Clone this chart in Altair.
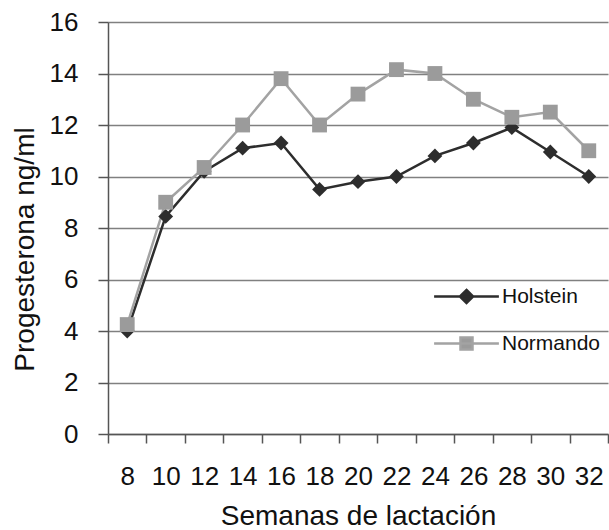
import altair as alt
import pandas as pd

semanas = [8, 10, 12, 14, 16, 18, 20, 22, 24, 26, 28, 30, 32]
holstein = [4.0, 8.45, 10.2, 11.1, 11.3, 9.5, 9.8, 10.0, 10.8, 11.3, 11.9, 10.95, 10.0]
normando = [4.25, 9.0, 10.35, 12.0, 13.8, 12.0, 13.2, 14.15, 14.0, 13.0, 12.3, 12.5, 11.0]
series = ["Holstein", "Normando"]
y_ticks = [0, 2, 4, 6, 8, 10, 12, 14, 16]

rows = []
for s, vals in zip(series, [holstein, normando]):
    for w, v in zip(semanas, vals):
        rows.append({"semana": w, "valor": v, "serie": s})
df = pd.DataFrame(rows)

FONT = "Liberation Sans"
line_colors = ["#2d2d2d", "#a3a3a3"]
fill_colors = ["#2d2d2d", "#9b9b9b"]

x_enc = alt.X(
    "semana:O",
    sort=semanas,
    bandPosition=0.5,
    scale=alt.Scale(type="band", paddingInner=0, paddingOuter=0),
    axis=alt.Axis(
        title="Semanas de lactación",
        labelAngle=0,
        tickBand="extent",
        grid=False,
        domainColor="#555555",
        domainWidth=1.5,
        tickColor="#555555",
        tickWidth=1.5,
        tickSize=9,
        labelFontSize=26,
        labelFont=FONT,
        labelColor="#111111",
        labelBaseline="alphabetic",
        labelPadding=41,
        titleFont=FONT,
        titleFontSize=28,
        titleFontWeight="normal",
        titleColor="#111111",
        titleBaseline="alphabetic",
        titleY=90,
    ),
)

y_enc = alt.Y(
    "valor:Q",
    scale=alt.Scale(domain=[0, 16], nice=False),
    axis=alt.Axis(
        title="Progesterona ng/ml",
        values=y_ticks,
        grid=True,
        gridColor="#808080",
        gridWidth=1.5,
        domainColor="#555555",
        domainWidth=1.5,
        tickColor="#555555",
        tickWidth=1.5,
        tickSize=10,
        labelFontSize=26,
        labelFont=FONT,
        labelColor="#111111",
        labelPadding=20,
        titleFont=FONT,
        titleFontSize=28,
        titleFontWeight="normal",
        titleColor="#111111",
        titleAngle=270,
        titleAlign="center",
        titleBaseline="middle",
        titleX=-83,
        titleY=227,
    ),
)

lines = alt.Chart(df).mark_line(strokeWidth=2.5).encode(
    x=x_enc,
    y=y_enc,
    stroke=alt.Stroke("serie:N", scale=alt.Scale(domain=series, range=line_colors), legend=None),
)

points = alt.Chart(df).mark_point(filled=True, opacity=1, size=220).encode(
    x=x_enc,
    y=y_enc,
    fill=alt.Fill("serie:N", scale=alt.Scale(domain=series, range=fill_colors), legend=None),
    shape=alt.Shape("serie:N", scale=alt.Scale(domain=series, range=["diamond", "square"]), legend=None),
)

legend_paths = [
    "M-5.4,0H5.4M0,-1.1L1.1,0L0,1.1L-1.1,0Z",
    "M-5.4,0H5.4M-1,-1H1V1H-1Z",
]
leg = alt.Legend(
    title=None,
    orient="none",
    legendX=348,
    legendY=264,
    padding=0,
    symbolSize=144,
    symbolStrokeWidth=2.5,
    labelOffset=25,
    labelFont=FONT,
    labelFontSize=21,
    labelColor="#111111",
    rowPadding=23,
)

legend_layer = alt.Chart(df).transform_filter("datum.valor < 0").mark_point(
    filled=True, opacity=1, strokeOpacity=1
).encode(
    x=x_enc,
    y=y_enc,
    fill=alt.Fill("serie:N", scale=alt.Scale(domain=series, range=fill_colors), legend=leg),
    stroke=alt.Stroke("serie:N", scale=alt.Scale(domain=series, range=line_colors), legend=leg),
    shape=alt.Shape("serie:N", scale=alt.Scale(domain=series, range=legend_paths), legend=leg),
)

chart = (
    alt.layer(lines, points, legend_layer)
    .resolve_scale(fill="independent", stroke="independent", shape="independent")
    .resolve_legend(fill="independent", stroke="independent", shape="independent")
    .properties(
        width=500,
        height=412,
        autosize=alt.AutoSizeParams(type="none"),
        padding={"left": 108, "top": 22, "right": 1, "bottom": 96},
        background="white",
    )
    .configure_view(strokeWidth=0)
)

chart.save("out.html", embed_options={"renderer": "svg", "actions": False})
